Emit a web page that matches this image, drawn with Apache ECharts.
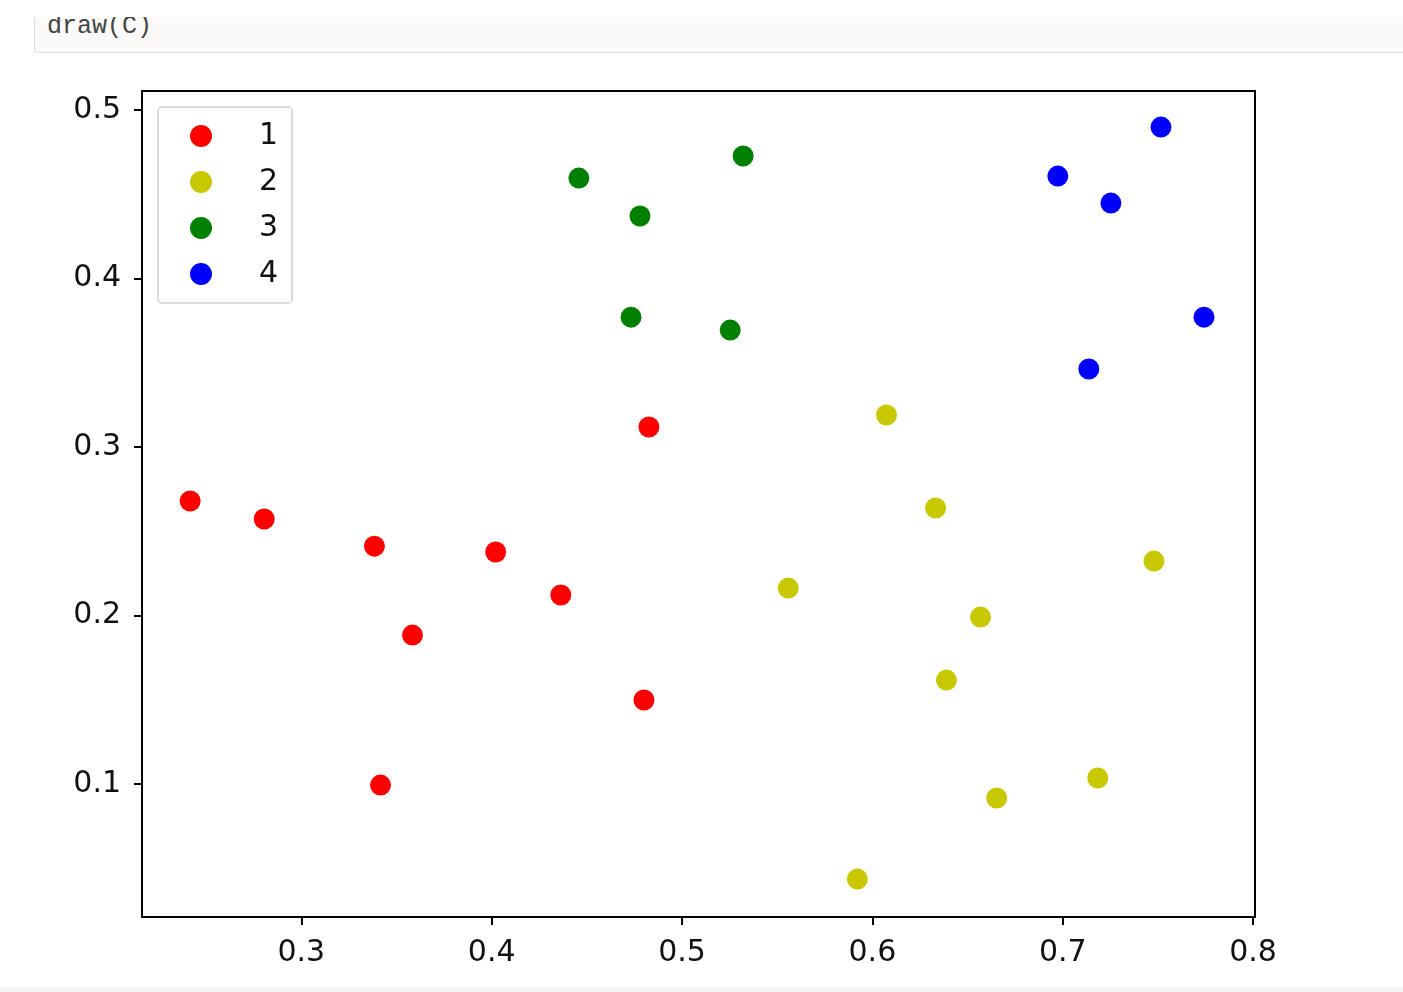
<!DOCTYPE html>
<html>
<head>
<meta charset="utf-8">
<script src="https://cdn.jsdelivr.net/npm/echarts@6/dist/echarts.min.js"></script>
<style>
  html, body { margin: 0; padding: 0; background: #fff; width: 1403px; height: 992px; overflow: hidden; }
  #chart { position: absolute; left: 0; top: 0; width: 1403px; height: 992px; }
  #cell { position: absolute; left: 34px; top: 17px; width: 1380px; height: 35px; background: #fbfaf8;
          border: 1px solid #dcdcdc; border-top: none; border-radius: 0 0 3px 3px; overflow: hidden; }
  #cell span { position: absolute; left: 12px; top: -3px; font-family: "Liberation Mono", "DejaVu Sans Mono", monospace;
               font-size: 25px; line-height: 25px; color: #444; }
  #foot { position: absolute; left: 0; top: 987px; width: 1403px; height: 5px; background: #f4f4f4; }
</style>
</head>
<body>
<div id="chart"></div>
<div id="cell"><span>draw(C)</span></div>
<div id="foot"></div>
<script>
// cluster labels
const clusterNames = ['1', '2', '3', '4'];
const clusterColors = ['#ff0000', '#c8c800', '#008000', '#0000ff'];

// points per cluster: [x, y]
const cluster1 = [
  [0.2416, 0.2680], [0.2805, 0.2573], [0.3384, 0.2412], [0.4021, 0.2377],
  [0.4363, 0.2122], [0.3584, 0.1884], [0.4826, 0.3119], [0.4800, 0.1499],
  [0.3416, 0.0994]
];
const cluster2 = [
  [0.6074, 0.3190], [0.6332, 0.2638], [0.5558, 0.2163], [0.7479, 0.2323],
  [0.6568, 0.1991], [0.6389, 0.1617], [0.7184, 0.1036], [0.6653, 0.0917],
  [0.5921, 0.0436]
];
const cluster3 = [
  [0.4458, 0.4596], [0.4779, 0.4371], [0.5321, 0.4727], [0.4732, 0.3771],
  [0.5253, 0.3694]
];
const cluster4 = [
  [0.7516, 0.4899], [0.6974, 0.4608], [0.7253, 0.4448], [0.7742, 0.3771],
  [0.7137, 0.3463]
];

// tick values
const xTicks = [0.3, 0.4, 0.5, 0.6, 0.7, 0.8];
const yTicks = [0.1, 0.2, 0.3, 0.4, 0.5];

const clusters = [cluster1, cluster2, cluster3, cluster4];

const chart = echarts.init(document.getElementById('chart'), null, { renderer: 'canvas' });

const axisCommon = {
  axisLine: { show: true, onZero: false, lineStyle: { color: '#000', width: 2 } },
  axisTick: { show: true, inside: false, length: 8, lineStyle: { color: '#000', width: 2 } },
  splitLine: { show: false },
  axisLabel: { color: '#111', fontSize: 30, fontFamily: 'DejaVu Sans', margin: 21 }
};

chart.setOption({
  animation: false,
  backgroundColor: 'transparent',
  grid: {
    left: 142, top: 91, right: 148, bottom: 75,
    show: true, borderColor: '#000', borderWidth: 2, backgroundColor: '#fff'
  },
  legend: {
    orient: 'vertical',
    left: 158, top: 107,
    data: clusterNames,
    icon: 'circle',
    itemWidth: 44, itemHeight: 22, itemGap: 16,
    padding: [14, 14, 14, 32],
    backgroundColor: '#fff',
    borderColor: '#d0d0d0', borderWidth: 1.5, borderRadius: 4,
    textStyle: { color: '#111', fontSize: 30, fontFamily: 'DejaVu Sans', lineHeight: 22, padding: [0, 0, 0, 31] }
  },
  xAxis: Object.assign({}, axisCommon, {
    type: 'value', min: 0.2163, max: 0.801,
    axisTick: Object.assign({}, axisCommon.axisTick, { customValues: xTicks }),
    axisLabel: Object.assign({}, axisCommon.axisLabel, { customValues: xTicks, formatter: v => v.toFixed(1) })
  }),
  yAxis: Object.assign({}, axisCommon, {
    type: 'value', min: 0.0211, max: 0.5113,
    axisTick: Object.assign({}, axisCommon.axisTick, { customValues: yTicks }),
    axisLabel: Object.assign({}, axisCommon.axisLabel, { customValues: yTicks, formatter: v => v.toFixed(1) })
  }),
  series: clusters.map((pts, i) => ({
    name: clusterNames[i],
    type: 'scatter',
    data: pts,
    symbol: 'circle',
    symbolSize: 21,
    itemStyle: { color: clusterColors[i], opacity: 1 }
  }))
});
</script>
</body>
</html>
